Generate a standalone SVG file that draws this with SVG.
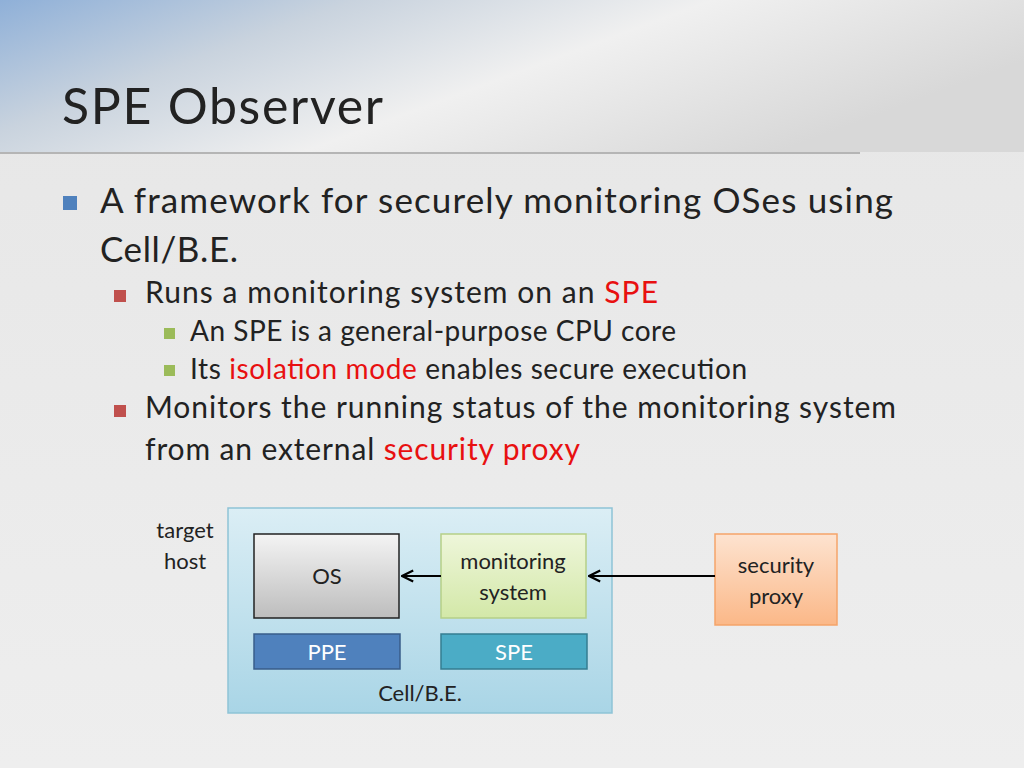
<svg xmlns="http://www.w3.org/2000/svg" width="1024" height="768" viewBox="0 0 1024 768">
<defs>
<linearGradient id="bg" x1="0" y1="0" x2="0" y2="1"><stop offset="0" stop-color="#e6e6e6"/><stop offset="1" stop-color="#eeeeee"/></linearGradient>
<linearGradient id="hdr" x1="0" y1="0" x2="1" y2="0.4"><stop offset="0" stop-color="#8fb0d8"/><stop offset="0.3" stop-color="#c9d3de"/><stop offset="0.6" stop-color="#f0f0f0"/><stop offset="1" stop-color="#d8d8d8"/></linearGradient>
<linearGradient id="os" x1="0" y1="0" x2="0" y2="1"><stop offset="0" stop-color="#f4f4f4"/><stop offset="1" stop-color="#bdbdbd"/></linearGradient>
<linearGradient id="cell" x1="0" y1="0" x2="0" y2="1"><stop offset="0" stop-color="#dbeef5"/><stop offset="1" stop-color="#a9d5e6"/></linearGradient>
<linearGradient id="mon" x1="0" y1="0" x2="0" y2="1"><stop offset="0" stop-color="#eef6da"/><stop offset="1" stop-color="#d3e8a8"/></linearGradient>
<linearGradient id="sp" x1="0" y1="0" x2="0" y2="1"><stop offset="0" stop-color="#fde3d0"/><stop offset="1" stop-color="#fbb888"/></linearGradient>
<marker id="ah" viewBox="0 0 10 10" refX="9" refY="5" markerWidth="7" markerHeight="7" orient="auto"><path d="M1,1 L9,5 L1,9" fill="none" stroke="#000" stroke-width="1.6"/></marker>
<style>
text{font-family:Lato,"Open Sans","Liberation Sans",sans-serif;}
.b1{font-size:35px;fill:#222}
.b2{font-size:30px;fill:#222}
.b3{font-size:28px;fill:#222}
.r{fill:#e81010}
.n{font-size:22px;fill:#222;text-anchor:middle}
.w{font-size:22px;fill:#fff;text-anchor:middle}
</style>
</defs>
<rect width="1024" height="768" fill="url(#bg)"/>
<rect width="1024" height="152" fill="url(#hdr)"/>
<line x1="0" y1="153" x2="860" y2="153" stroke="#b5b5b5" stroke-width="2"/>
<text x="62" y="124" font-size="50" fill="#222" textLength="321">SPE Observer</text>
<rect x="63" y="196" width="14" height="14" fill="#4f81bd"/>
<text class="b1" x="100" y="213" textLength="793">A framework for securely monitoring OSes using</text>
<text class="b1" x="100" y="262" textLength="138">Cell/B.E.</text>
<rect x="114" y="290" width="12" height="12" fill="#c0504d"/>
<text class="b2" x="145" y="303" textLength="513">Runs a monitoring system on an <tspan class="r">SPE</tspan></text>
<rect x="164" y="328" width="11" height="11" fill="#9bbb59"/>
<text class="b3" x="190" y="341" textLength="486">An SPE is a general-purpose CPU core</text>
<rect x="164" y="365" width="11" height="11" fill="#9bbb59"/>
<text class="b3" x="190" y="379" textLength="557">Its <tspan class="r">isolation mode</tspan> enables secure execution</text>
<rect x="114" y="405" width="12" height="12" fill="#c0504d"/>
<text class="b2" x="145" y="418" textLength="751">Monitors the running status of the monitoring system</text>
<text class="b2" x="145" y="460" textLength="435">from an external <tspan class="r">security proxy</tspan></text>
<text class="n" x="185" y="538">target</text>
<text class="n" x="185" y="569">host</text>
<g id="cellbe"><rect x="228" y="508" width="384" height="205" fill="url(#cell)" stroke="#8ec3d6" stroke-width="1.5"/><text class="n" x="420" y="701">Cell/B.E.</text></g>
<g id="osn"><rect x="254" y="534" width="145" height="84" fill="url(#os)" stroke="#222" stroke-width="1.5"/><text class="n" x="327" y="584">OS</text></g>
<g id="mons"><rect x="441" y="534" width="145" height="84" fill="url(#mon)" stroke="#b5cf88" stroke-width="1.5"/><text class="n" x="513" y="569">monitoring</text><text class="n" x="513" y="600">system</text></g>
<g id="ppe"><rect x="254" y="634" width="146" height="35" fill="#4f81bd" stroke="#385d8a" stroke-width="1.5"/><text class="w" x="327" y="660">PPE</text></g>
<g id="spe"><rect x="441" y="634" width="146" height="35" fill="#4bacc6" stroke="#357d91" stroke-width="1.5"/><text class="w" x="514" y="660">SPE</text></g>
<g id="proxy"><rect x="715" y="534" width="122" height="91" fill="url(#sp)" stroke="#f5a46a" stroke-width="1.5"/><text class="n" x="776" y="573">security</text><text class="n" x="776" y="604">proxy</text></g>
<g id="connectors" stroke="#000" stroke-width="2" fill="none">
<line x1="441" y1="576" x2="402" y2="576" marker-end="url(#ah)"/>
<line x1="715" y1="576" x2="589" y2="576" marker-end="url(#ah)"/>
</g>
</svg>
